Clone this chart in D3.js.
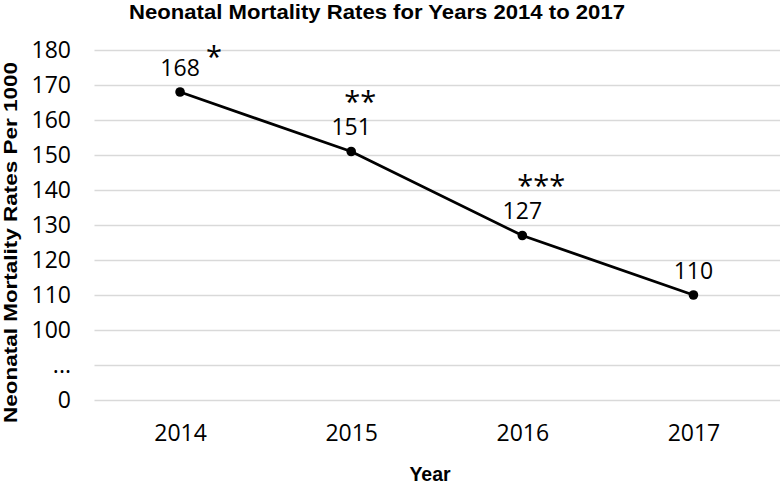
<!DOCTYPE html>
<html>
<head>
<meta charset="utf-8">
<script src="https://cdn.jsdelivr.net/npm/d3@7"></script>
<style>
  html, body { margin: 0; padding: 0; background: #fff; }
  svg { display: block; }
  text { font-family: "Open Sans", "Noto Sans", sans-serif; fill: #000; }
</style>
</head>
<body>
<svg id="chart" width="780" height="486"></svg>
<script>
// ---- data ----
const years = ["2014", "2015", "2016", "2017"];
const rates = [168, 151, 127, 110];
const significance = ["*", "**", "***", ""];
const yTickLabels = ["0", "...", "100", "110", "120", "130", "140", "150", "160", "170", "180"];
const titleText = "Neonatal Mortality Rates for Years 2014 to 2017";
const yAxisTitle = "Neonatal Mortality Rates Per 1000";
const xAxisTitle = "Year";

// ---- layout ----
const W = 780, H = 486;
const plot = { left: 94.5, right: 779, top: 50, bottom: 400 };
const annotOffsets = [[34, -25], [9, -40], [19, -40], [0, 0]];

const svg = d3.select("#chart");

const x = d3.scalePoint().domain(years).range([plot.left, plot.right]).padding(0.5);
const yPos = d3.scalePoint().domain(yTickLabels).range([plot.bottom, plot.top]);
const y = d3.scaleLinear().domain([100, 180]).range([yPos("100"), yPos("180")]);

// gridlines + y tick labels via axis
const yAxis = d3.axisLeft(yPos).tickSize(0).tickPadding(0);
const gy = svg.append("g").attr("transform", `translate(${plot.left},0)`).call(yAxis);
gy.select(".domain").remove();
gy.selectAll(".tick text")
  .attr("x", 71 - plot.left)
  .attr("dy", "0.34em")
  .attr("text-anchor", "end")
  .style("font-family", '"Open Sans", sans-serif')
  .style("font-size", "23px")
  .attr("fill", "#000");
gy.selectAll(".tick").append("line")
  .attr("x1", 0).attr("x2", plot.right - plot.left + 1)
  .attr("stroke", "#d9d9d9").attr("stroke-width", 1.4);

// x axis labels via axis
const xAxis = d3.axisBottom(x).tickSize(0).tickPadding(0);
const gx = svg.append("g").attr("transform", `translate(0,441)`).call(xAxis);
gx.select(".domain").remove();
gx.selectAll(".tick text")
  .attr("y", 0).attr("dy", 0)
  .style("font-family", '"Open Sans", sans-serif')
  .style("font-size", "23px")
  .attr("fill", "#000");

// line
const pts = years.map((yr, i) => ({ yr, v: rates[i], s: significance[i], i }));
svg.append("path")
  .datum(pts)
  .attr("fill", "none")
  .attr("stroke", "#000")
  .attr("stroke-width", 2.8)
  .attr("stroke-linejoin", "round")
  .attr("d", d3.line().x(d => x(d.yr)).y(d => y(d.v)));

svg.selectAll("circle.pt").data(pts).join("circle")
  .attr("class", "pt")
  .attr("cx", d => x(d.yr)).attr("cy", d => y(d.v)).attr("r", 4.8)
  .attr("fill", "#000");

// value labels
svg.selectAll("text.val").data(pts).join("text")
  .attr("class", "val")
  .attr("x", d => x(d.yr)).attr("y", d => y(d.v) - 16.5)
  .attr("text-anchor", "middle")
  .style("font-size", "23px")
  .text(d => d.v);

// significance annotations
svg.selectAll("text.sig").data(pts.filter(d => d.s)).join("text")
  .attr("class", "sig")
  .attr("x", d => x(d.yr) + annotOffsets[d.i][0])
  .attr("y", d => y(d.v) + annotOffsets[d.i][1])
  .attr("text-anchor", "middle")
  .style("font-size", "29px")
  .text(d => d.s);

// titles
svg.append("text")
  .attr("x", 377).attr("y", 19)
  .attr("text-anchor", "middle")
  .attr("textLength", 496).attr("lengthAdjust", "spacingAndGlyphs")
  .style("font-family", '"Liberation Sans", Arial, sans-serif')
  .style("font-weight", "bold").style("font-size", "20.5px")
  .text(titleText);

svg.append("text")
  .attr("transform", "translate(17,242.5) rotate(-90)")
  .attr("text-anchor", "middle")
  .attr("textLength", 361).attr("lengthAdjust", "spacingAndGlyphs")
  .style("font-family", '"Liberation Sans", Arial, sans-serif')
  .style("font-weight", "bold").style("font-size", "18px")
  .text(yAxisTitle);

svg.append("text")
  .attr("x", 430).attr("y", 481)
  .attr("text-anchor", "middle")
  .style("font-family", '"Liberation Sans", Arial, sans-serif')
  .style("font-weight", "bold").style("font-size", "19.5px")
  .text(xAxisTitle);
</script>
</body>
</html>
